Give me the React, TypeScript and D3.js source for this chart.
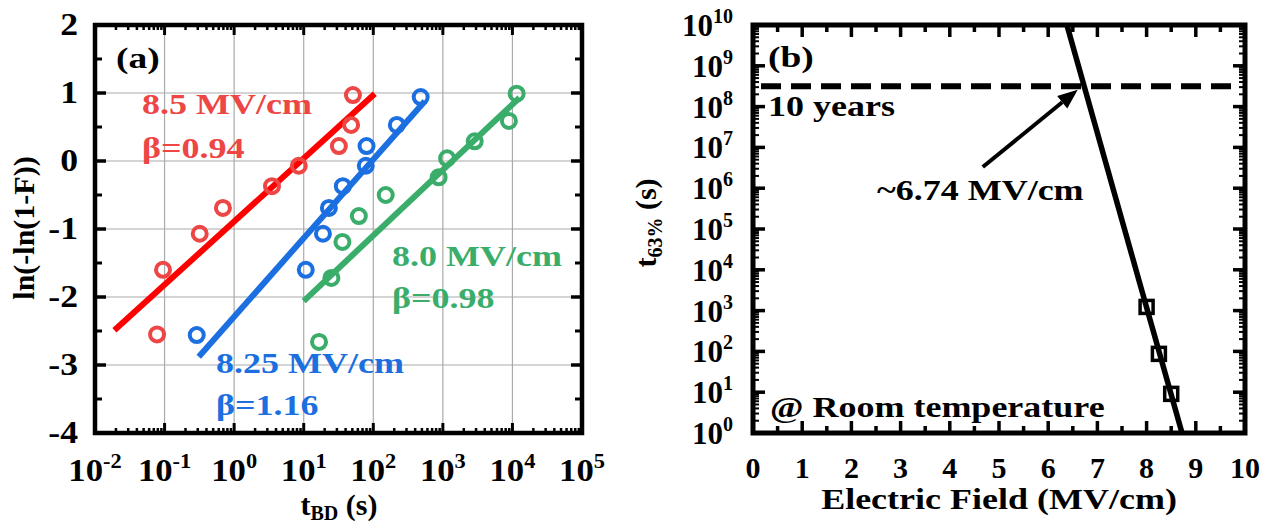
import React from 'react';
import * as d3 from 'd3';

// ---- panel (a) Weibull data ----
const redT = [0.078, 0.095, 0.32, 0.69, 3.5, 8.5, 32, 48, 51];
const redY = [-2.55, -1.6, -1.07, -0.69, -0.37, -0.07, 0.22, 0.53, 0.97];
const blueT = [0.29, 10.7, 18.9, 23, 36.5, 78, 80, 218, 480];
const blueY = [-2.56, -1.6, -1.07, -0.69, -0.37, -0.07, 0.22, 0.53, 0.94];
const greenT = [16.6, 25, 36, 62, 151, 870, 1150, 2870, 8900, 11500];
const greenY = [-2.66, -1.72, -1.19, -0.81, -0.5, -0.24, 0.04, 0.29, 0.59, 0.99];

const redFitT = [0.019, 105];
const redFitY = [-2.49, 0.99];
const blueFitT = [0.31, 550];
const blueFitY = [-2.88, 0.88];
const greenFitT = [10, 12600];
const greenFitY = [-2.06, 0.93];

const xExpA = [-2, -1, 0, 1, 2, 3, 4, 5];
const yTicksA = [-4, -3, -2, -1, 0, 1, 2];

// ---- panel (b) lifetime extrapolation ----
const fieldE = [8.0, 8.25, 8.5];
const t63 = [1230, 87, 9.1];
const fitE = [6.38, 8.72];
const fitT = [1e10, 1];
const tenYears = 3.15e8;
const arrowE = [4.67, 6.6];
const arrowT = [3.3e6, 2.6e8];
const xTicksB = [0, 1, 2, 3, 4, 5, 6, 7, 8, 9, 10];
const yExpB = [0, 1, 2, 3, 4, 5, 6, 7, 8, 9, 10];

const FONT = '"Liberation Serif", "Times New Roman", serif';
const RED = '#ee4545';
const BLUE = '#1b6fe0';
const GREEN = '#3aad6b';

// text stretched sideways like the original figure's lettering
function WideText({ x, y, sx = 1.2, children, ...rest }: any) {
  return (
    <text transform={`translate(${x},${y}) scale(${sx},1)`} {...rest}>{children}</text>
  );
}

function PanelA() {
  const x = d3.scaleLog().domain([1e-2, 1e5]).range([95, 582]);
  const y = d3.scaleLinear().domain([-4, 2]).range([433, 25]);
  const line = d3.line<[number, number]>().x(d => x(d[0])).y(d => y(d[1]));

  const minorX: number[] = [];
  for (let e = -2; e < 5; e++) for (let k = 2; k < 10; k++) minorX.push(k * Math.pow(10, e));
  const halfY = d3.range(-3.5, 2, 1);

  const series = [
    { t: redT, v: redY, ft: redFitT, fv: redFitY, c: RED, lc: '#ff0000' },
    { t: blueT, v: blueY, ft: blueFitT, fv: blueFitY, c: BLUE, lc: BLUE },
    { t: greenT, v: greenY, ft: greenFitT, fv: greenFitY, c: GREEN, lc: GREEN },
  ];
  const [x0, x1] = x.range();
  const [y0, y1] = y.range();

  return (
    <g fontFamily={FONT} fontWeight="bold">
      {/* grid */}
      {xExpA.slice(1, -1).map(e => (
        <line key={'gx' + e} x1={x(Math.pow(10, e))} x2={x(Math.pow(10, e))} y1={y1} y2={y0} stroke="#aaa" strokeWidth={1.2} />
      ))}
      {yTicksA.slice(1, -1).map(v => (
        <line key={'gy' + v} x1={x0} x2={x1} y1={y(v)} y2={y(v)} stroke="#aaa" strokeWidth={1.2} />
      ))}
      {/* fits and points */}
      {series.map((s, i) => (
        <g key={i}>
          <path d={line(s.ft.map((t, j) => [t, s.fv[j]]) as [number, number][]) || ''} stroke={s.lc} strokeWidth={6} fill="none" />
          {s.t.map((t, j) => (
            <circle key={j} cx={x(t)} cy={y(s.v[j])} r={7} fill="none" stroke={s.c} strokeWidth={4} />
          ))}
        </g>
      ))}
      {/* ticks */}
      {xExpA.map(e => {
        const px = x(Math.pow(10, e));
        return (
          <g key={'tx' + e}>
            <line x1={px} x2={px} y1={y0} y2={y0 - 10} stroke="#000" strokeWidth={3} />
            <line x1={px} x2={px} y1={y1} y2={y1 + 10} stroke="#000" strokeWidth={3} />
            <WideText x={px} y={481} sx={1.12} textAnchor="middle" fontSize={31}>
              <tspan>10</tspan>
              <tspan dy={-13} fontSize={20}>{e}</tspan>
            </WideText>
          </g>
        );
      })}
      {minorX.map((v, i) => (
        <g key={'mx' + i}>
          <line x1={x(v)} x2={x(v)} y1={y0} y2={y0 - 5} stroke="#000" strokeWidth={2.5} />
          <line x1={x(v)} x2={x(v)} y1={y1} y2={y1 + 5} stroke="#000" strokeWidth={2.5} />
        </g>
      ))}
      {yTicksA.map(v => (
        <g key={'ty' + v}>
          <line x1={x0} x2={x0 + 11} y1={y(v)} y2={y(v)} stroke="#000" strokeWidth={3.5} />
          <line x1={x1} x2={x1 - 11} y1={y(v)} y2={y(v)} stroke="#000" strokeWidth={3.5} />
          <WideText x={78} y={y(v) + 10} sx={1.15} textAnchor="end" fontSize={31}>{v < 0 ? '-' + Math.abs(v) : v}</WideText>
        </g>
      ))}
      {halfY.map(v => (
        <g key={'hy' + v}>
          <line x1={x0} x2={x0 + 7} y1={y(v)} y2={y(v)} stroke="#000" strokeWidth={3} />
          <line x1={x1} x2={x1 - 7} y1={y(v)} y2={y(v)} stroke="#000" strokeWidth={3} />
        </g>
      ))}
      <rect x={x0} y={y1} width={x1 - x0} height={y0 - y1} fill="none" stroke="#000" strokeWidth={4.5} />
      {/* labels */}
      <WideText x={116} y={68} sx={1.25} fontSize={30}>(a)</WideText>
      <WideText x={142} y={114} fontSize={30} fill={RED}>8.5 MV/cm</WideText>
      <WideText x={142} y={158} fontSize={30} fill={RED}>β=0.94</WideText>
      <WideText x={216} y={373} fontSize={30} fill={BLUE}>8.25 MV/cm</WideText>
      <WideText x={216} y={415} fontSize={30} fill={BLUE}>β=1.16</WideText>
      <WideText x={392} y={266} fontSize={30} fill={GREEN}>8.0 MV/cm</WideText>
      <WideText x={392} y={308} fontSize={30} fill={GREEN}>β=0.98</WideText>
      <text transform="translate(34,228) rotate(-90)" textAnchor="middle" fontSize={30}>ln(-ln(1-F))</text>
      <text x={339} y={515} textAnchor="middle" fontSize={30}>
        <tspan>t</tspan>
        <tspan fontSize={20} dy={5}>BD</tspan>
        <tspan dy={-5}> (s)</tspan>
      </text>
    </g>
  );
}

function PanelB() {
  const x = d3.scaleLinear().domain([0, 10]).range([753, 1245]);
  const y = d3.scaleLog().domain([1, 1e10]).range([433, 25]);
  const line = d3.line<[number, number]>().x(d => x(d[0])).y(d => y(d[1]));
  const [x0, x1] = x.range();
  const [y0, y1] = y.range();

  const minorY: number[] = [];
  for (let e = 0; e < 10; e++) for (let k = 2; k < 10; k++) minorY.push(k * Math.pow(10, e));
  const halfX = d3.range(0.5, 10, 1);

  const ax0 = x(arrowE[0]), ay0 = y(arrowT[0]), ax1 = x(arrowE[1]), ay1 = y(arrowT[1]);
  const ang = Math.atan2(ay1 - ay0, ax1 - ax0);
  const hl = 20, hw = 8;
  const bx = ax1 - hl * Math.cos(ang), by = ay1 - hl * Math.sin(ang);
  const head = [
    [ax1, ay1],
    [bx + hw * Math.sin(ang), by - hw * Math.cos(ang)],
    [bx - hw * Math.sin(ang), by + hw * Math.cos(ang)],
  ].map(p => p.join(',')).join(' ');

  return (
    <g fontFamily={FONT} fontWeight="bold">
      <line x1={x0} x2={x1 - 8} y1={y(tenYears)} y2={y(tenYears)} stroke="#000" strokeWidth={6} strokeDasharray="20 10" strokeDashoffset={-8} />
      <path d={line(fitE.map((e, i) => [e, fitT[i]]) as [number, number][]) || ''} stroke="#000" strokeWidth={5.5} fill="none" />
      {fieldE.map((e, i) => (
        <rect key={i} x={x(e) - 6.5} y={y(t63[i]) - 6.5} width={13} height={13} fill="none" stroke="#000" strokeWidth={3.5} />
      ))}
      <line x1={ax0} y1={ay0} x2={bx} y2={by} stroke="#000" strokeWidth={4} />
      <polygon points={head} fill="#000" />
      {/* ticks */}
      {xTicksB.map(v => (
        <g key={'tx' + v}>
          <line x1={x(v)} x2={x(v)} y1={y0} y2={y0 - 12} stroke="#000" strokeWidth={3.5} />
          <line x1={x(v)} x2={x(v)} y1={y1} y2={y1 + 12} stroke="#000" strokeWidth={3.5} />
          <text x={x(v)} y={478} textAnchor="middle" fontSize={30}>{v}</text>
        </g>
      ))}
      {halfX.map(v => (
        <g key={'hx' + v}>
          <line x1={x(v)} x2={x(v)} y1={y0} y2={y0 - 7} stroke="#000" strokeWidth={3.5} />
          <line x1={x(v)} x2={x(v)} y1={y1} y2={y1 + 7} stroke="#000" strokeWidth={3.5} />
        </g>
      ))}
      {yExpB.map(e => (
        <g key={'ty' + e}>
          <line x1={x0} x2={x0 + 12} y1={y(Math.pow(10, e))} y2={y(Math.pow(10, e))} stroke="#000" strokeWidth={3.5} />
          <line x1={x1} x2={x1 - 12} y1={y(Math.pow(10, e))} y2={y(Math.pow(10, e))} stroke="#000" strokeWidth={3.5} />
          <text x={733} y={y(Math.pow(10, e)) + 11} textAnchor="end" fontSize={31}>
            <tspan>10</tspan>
            <tspan dy={-13} fontSize={20}>{e}</tspan>
          </text>
        </g>
      ))}
      {minorY.map((v, i) => (
        <g key={'my' + i}>
          <line x1={x0} x2={x0 + 6} y1={y(v)} y2={y(v)} stroke="#000" strokeWidth={2} />
          <line x1={x1} x2={x1 - 6} y1={y(v)} y2={y(v)} stroke="#000" strokeWidth={2} />
        </g>
      ))}
      <rect x={x0} y={y1} width={x1 - x0} height={y0 - y1} fill="none" stroke="#000" strokeWidth={5} />
      {/* labels */}
      <WideText x={768} y={67} sx={1.25} fontSize={30}>(b)</WideText>
      <WideText x={768} y={116} fontSize={30}>10 years</WideText>
      <WideText x={877} y={200} fontSize={30}>~6.74 MV/cm</WideText>
      <WideText x={770} y={417} fontSize={30}>@ Room temperature</WideText>
      <text transform="translate(656,223) rotate(-90)" textAnchor="middle" fontSize={30}>
        <tspan>t</tspan>
        <tspan fontSize={20} dy={6}>63%</tspan>
        <tspan dy={-6}> (s)</tspan>
      </text>
      <WideText x={999} y={509} textAnchor="middle" fontSize={30}>Electric Field (MV/cm)</WideText>
    </g>
  );
}

export default function App() {
  return (
    <svg width={1277} height={528} style={{ position: 'absolute', left: 0, top: 0, background: '#fff' }}>
      <rect width={1277} height={528} fill="#fff" />
      <PanelA />
      <PanelB />
    </svg>
  );
}
